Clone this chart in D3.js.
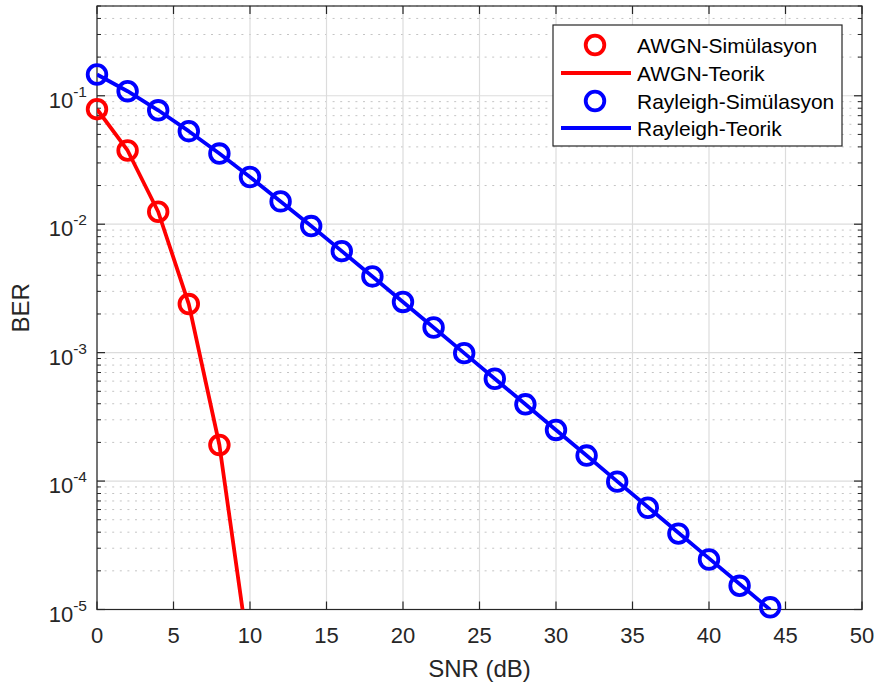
<!DOCTYPE html>
<html>
<head>
<meta charset="utf-8">
<script src="https://cdn.jsdelivr.net/npm/d3@7"></script>
<style>
  html, body { margin: 0; padding: 0; background: #fff; }
  svg { display: block; font-family: "Liberation Sans", Arial, Helvetica, sans-serif; }
</style>
</head>
<body>
<svg id="chart" width="875" height="685"></svg>
<script>
// SNR grid (dB)
const snr = [0, 2, 4, 6, 8, 10, 12, 14, 16, 18, 20, 22, 24, 26, 28, 30, 32, 34, 36, 38, 40, 42, 44];

// BPSK bit error rate over AWGN
const awgnSimSnr = [0, 2, 4, 6, 8];
const awgnSim = [0.0786, 0.0375, 0.0125, 0.00239, 0.000191];
const awgnTheorySnr = [0, 2, 4, 6, 8, 10, 12];
const awgnTheory = [0.0786, 0.0375, 0.0125, 0.00239, 0.000191, 3.87e-6, 9.0e-9];

// BPSK bit error rate over flat Rayleigh fading
const rayleighSim = [0.1464, 0.1085, 0.0771, 0.0530, 0.0355, 0.0233, 0.01505, 0.00967,
  0.00617, 0.00392, 0.00248, 0.00157, 0.000991, 0.000626, 0.000396, 0.000250,
  0.000158, 9.9e-5, 6.2e-5, 3.9e-5, 2.45e-5, 1.53e-5, 1.04e-5];
const rayleighTheory = [0.1464, 0.1085, 0.0771, 0.0530, 0.0355, 0.0233, 0.01505, 0.00967,
  0.00617, 0.00392, 0.00248, 0.00157, 0.000991, 0.000626, 0.000396, 0.000250,
  0.000158, 9.95e-5, 6.28e-5, 3.96e-5, 2.50e-5, 1.58e-5, 9.95e-6];

const xTicks = [0, 5, 10, 15, 20, 25, 30, 35, 40, 45, 50];
const yDecades = [-5, -4, -3, -2, -1];
const legendLabels = ["AWGN-Simülasyon", "AWGN-Teorik", "Rayleigh-Simülasyon", "Rayleigh-Teorik"];

const svg = d3.select("#chart");
const L = 97, R = 862, T = 6, B = 609.5;
const axisColor = "#262626";
const red = "#ff0000", blue = "#0000ff";
const lineW = 3.8, markR = 9.3;

const x = d3.scaleLinear().domain([0, 50]).range([L, R]);
const y = d3.scaleLog().domain([1e-5, 0.5]).range([B, T]);

// minor tick values: 2..9 within each decade, up to 0.5
const minorVals = [];
for (let e = -5; e <= -1; e++) {
  for (let m = 2; m <= 9; m++) {
    const v = m * Math.pow(10, e);
    if (v <= 0.5 + 1e-12) minorVals.push(v);
  }
}
const majorVals = yDecades.map(e => Math.pow(10, e));

const g = svg.append("g");

// minor grid (dotted)
g.selectAll("line.minor").data(minorVals).join("line")
  .attr("x1", L).attr("x2", R)
  .attr("y1", d => y(d)).attr("y2", d => y(d))
  .attr("stroke", "#c4c4c4").attr("stroke-width", 1)
  .attr("stroke-dasharray", "2,5.6");

// major grid
g.selectAll("line.vgrid").data(xTicks).join("line")
  .attr("x1", d => x(d)).attr("x2", d => x(d))
  .attr("y1", T).attr("y2", B)
  .attr("stroke", "#dcdcdc").attr("stroke-width", 1.2);
g.selectAll("line.hgrid").data(majorVals).join("line")
  .attr("x1", L).attr("x2", R)
  .attr("y1", d => y(d)).attr("y2", d => y(d))
  .attr("stroke", "#dcdcdc").attr("stroke-width", 1.2);

// axes box and ticks
const ax = svg.append("g");
ax.append("rect").attr("x", L).attr("y", T).attr("width", R - L).attr("height", B - T)
  .attr("fill", "none").attr("stroke", axisColor).attr("stroke-width", 1.2);

xTicks.forEach(t => {
  ax.append("line").attr("x1", x(t)).attr("x2", x(t)).attr("y1", B).attr("y2", B - 8)
    .attr("stroke", axisColor).attr("stroke-width", 1.2);
  ax.append("line").attr("x1", x(t)).attr("x2", x(t)).attr("y1", T).attr("y2", T + 8)
    .attr("stroke", axisColor).attr("stroke-width", 1.2);
});
majorVals.forEach(v => {
  ax.append("line").attr("x1", L).attr("x2", L + 8).attr("y1", y(v)).attr("y2", y(v))
    .attr("stroke", axisColor).attr("stroke-width", 1.2);
  ax.append("line").attr("x1", R).attr("x2", R - 8).attr("y1", y(v)).attr("y2", y(v))
    .attr("stroke", axisColor).attr("stroke-width", 1.2);
});
minorVals.forEach(v => {
  ax.append("line").attr("x1", L).attr("x2", L + 4).attr("y1", y(v)).attr("y2", y(v))
    .attr("stroke", axisColor).attr("stroke-width", 1);
  ax.append("line").attr("x1", R).attr("x2", R - 4).attr("y1", y(v)).attr("y2", y(v))
    .attr("stroke", axisColor).attr("stroke-width", 1);
});

// clip for lines; markers are drawn whole
svg.append("clipPath").attr("id", "plotClip")
  .append("rect").attr("x", L).attr("y", T).attr("width", R - L).attr("height", B - T);

const plotLines = svg.append("g").attr("clip-path", "url(#plotClip)");
const plotMarks = svg.append("g");
const line = d3.line().x(d => x(d[0])).y(d => y(d[1]));

function drawSeries(xs, ys, color) {
  plotLines.append("path")
    .datum(xs.map((v, i) => [v, ys[i]]))
    .attr("d", line)
    .attr("fill", "none").attr("stroke", color).attr("stroke-width", lineW)
    .attr("stroke-linejoin", "round");
}
function drawMarkers(xs, ys, color) {
  plotMarks.selectAll(null).data(xs.map((v, i) => [v, ys[i]])).join("circle")
    .attr("cx", d => x(d[0])).attr("cy", d => y(d[1]))
    .attr("r", markR).attr("fill", "none")
    .attr("stroke", color).attr("stroke-width", lineW);
}

drawSeries(awgnTheorySnr, awgnTheory, red);
drawMarkers(awgnSimSnr, awgnSim, red);
drawSeries(snr, rayleighTheory, blue);
drawMarkers(snr, rayleighSim, blue);

// x tick labels
ax.selectAll("text.xt").data(xTicks).join("text")
  .attr("x", d => x(d)).attr("y", B + 33.5)
  .attr("text-anchor", "middle").attr("font-size", 22).attr("fill", axisColor)
  .text(d => d);

// y tick labels: 10^e
yDecades.forEach(e => {
  const t = ax.append("text")
    .attr("x", L - 10).attr("y", y(Math.pow(10, e)) + 12)
    .attr("text-anchor", "end").attr("font-size", 22).attr("fill", axisColor);
  t.append("tspan").text("10");
  t.append("tspan").attr("dy", -11).attr("font-size", 15.5).text(e);
});

// axis labels
svg.append("text").attr("x", (L + R) / 2).attr("y", 677)
  .attr("text-anchor", "middle").attr("font-size", 24).attr("fill", axisColor)
  .text("SNR (dB)");
svg.append("text")
  .attr("transform", `translate(29, ${(T + B) / 2}) rotate(-90)`)
  .attr("text-anchor", "middle").attr("font-size", 24).attr("fill", axisColor)
  .text("BER");

// legend
const lg = svg.append("g");
lg.append("rect").attr("x", 553).attr("y", 25).attr("width", 289).attr("height", 121)
  .attr("fill", "#fff").attr("stroke", axisColor).attr("stroke-width", 1.2);
const rowY = [45, 73, 101, 128];
const legendColors = [red, red, blue, blue];
legendLabels.forEach((lab, i) => {
  if (i % 2 === 0) {
    lg.append("circle").attr("cx", 595).attr("cy", rowY[i]).attr("r", markR)
      .attr("fill", "none").attr("stroke", legendColors[i]).attr("stroke-width", lineW);
  } else {
    lg.append("line").attr("x1", 561).attr("x2", 631).attr("y1", rowY[i]).attr("y2", rowY[i])
      .attr("stroke", legendColors[i]).attr("stroke-width", lineW);
  }
  lg.append("text").attr("x", 637).attr("y", rowY[i] + 7.5)
    .attr("font-size", 21).attr("fill", "#000").text(lab);
});
</script>
</body>
</html>
